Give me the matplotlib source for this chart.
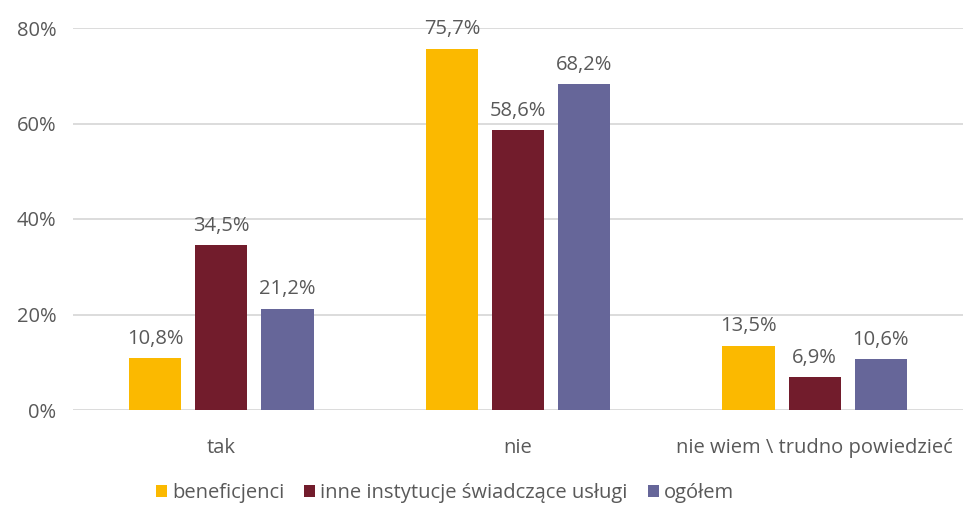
import numpy as np
import matplotlib.pyplot as plt
from matplotlib.ticker import FuncFormatter

categories = ['tak', 'nie', 'nie wiem \\ trudno powiedzieć']
series = ['beneficjenci', 'inne instytucje świadczące usługi', 'ogółem']
values = [
    [10.8, 75.7, 13.5],
    [34.5, 58.6, 6.9],
    [21.2, 68.2, 10.6],
]
colors = ['#FBB900', '#721C2C', '#666699']

plt.rcParams['font.family'] = ['Open Sans', 'DejaVu Sans']
txt = '#595959'
fs = 14.5

fig = plt.figure(figsize=(9.68, 5.05), dpi=100)
ax = fig.add_axes([73 / 968, 1 - 410 / 505, 890 / 968, 382 / 505])

x = np.arange(len(categories))
width = 0.176
step = 0.223
for i, (name, vals) in enumerate(zip(series, values)):
    pos = x + (i - 1) * step
    bars = ax.bar(pos, vals, width, color=colors[i], label=name, zorder=3)
    for b, v in zip(bars, vals):
        ax.text(b.get_x() + b.get_width() / 2, v + 2.0, f'{v:.1f}%'.replace('.', ','),
                ha='center', va='bottom', fontsize=fs, color=txt)

ax.set_xlim(-0.5, 2.5)
ax.set_ylim(0, 80)
ax.set_yticks([0, 20, 40, 60, 80])
ax.yaxis.set_major_formatter(FuncFormatter(lambda v, p: f'{v:.0f}%'))
ax.set_xticks(x)
ax.set_xticklabels(categories)
ax.grid(axis='y', color='#D9D9D9', lw=1.3, zorder=0)
for s in ax.spines.values():
    s.set_visible(False)
ax.tick_params(length=0, labelsize=fs, colors=txt)
ax.tick_params(axis='x', pad=20)
ax.tick_params(axis='y', pad=12)

ax.legend(loc='center', bbox_to_anchor=(445 / 968, 1 - 493 / 505), ncol=3,
          frameon=False, fontsize=fs, labelcolor=txt, handlelength=0.55,
          handleheight=0.55, handletextpad=0.25, columnspacing=1.0,
          bbox_transform=fig.transFigure)

plt.savefig('out.png', dpi=100)
